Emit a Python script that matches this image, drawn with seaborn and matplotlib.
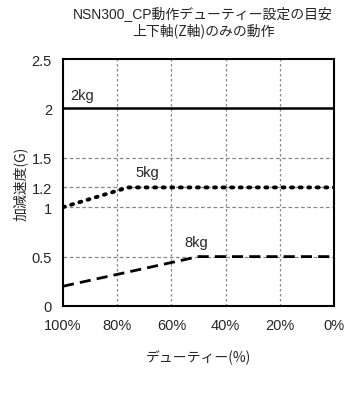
import matplotlib
matplotlib.use("Agg")
import matplotlib.pyplot as plt
import seaborn as sns

# データ (デューティー% と 加減速度G)
duty_2kg = [100, 0]
accel_2kg = [2.0, 2.0]
duty_5kg = [100, 76, 0]
accel_5kg = [1.0, 1.2, 1.2]
duty_8kg = [100, 50, 0]
accel_8kg = [0.2, 0.5, 0.5]

labels = ["2kg", "5kg", "8kg"]
label_pos = [(93, 2.14), (69, 1.36), (51, 0.65)]

x_ticks = [100, 80, 60, 40, 20, 0]
x_ticklabels = ["100%", "80%", "60%", "40%", "20%", "0%"]
y_ticks = [0, 0.5, 1, 1.2, 1.5, 2, 2.5]
y_ticklabels = ["0", "0.5", "1", "1.2", "1.5", "2", "2.5"]

sns.set_style("white")
plt.rcParams['font.family'] = ['Liberation Sans', 'Noto Sans CJK JP']
jp = ['Noto Sans CJK JP', 'DejaVu Sans']

fig = plt.figure(figsize=(3.53, 4.10), dpi=100)
ax = fig.add_axes([63 / 353, 1 - 307 / 410, 271 / 353, 247 / 410])

# グリッド
for x in [80, 60, 40, 20]:
    ax.axvline(x, color="#888888", linestyle=(0, (2, 2)), linewidth=0.9, zorder=1)
for y in [0.5, 1, 1.2, 1.5]:
    ax.axhline(y, color="#888888", linestyle=(0, (3, 2)), linewidth=0.9, zorder=1)

sns.lineplot(x=duty_2kg, y=accel_2kg, ax=ax, color="black", linewidth=1.8, sort=False)
sns.lineplot(x=duty_5kg, y=accel_5kg, ax=ax, color="black", linewidth=2.8,
             linestyle=(0, (0.5, 1.7)), dash_capstyle="round", sort=False)
sns.lineplot(x=duty_8kg, y=accel_8kg, ax=ax, color="black", linewidth=2.0,
             linestyle=(0, (4, 2.2)), sort=False)

for lab, (lx, ly) in zip(labels, label_pos):
    ax.text(lx, ly, lab, ha="center", va="center", fontsize=10.5)

ax.set_xlim(100, 0)
ax.set_ylim(0, 2.5)
ax.set_xticks(x_ticks)
ax.set_xticklabels(x_ticklabels, fontsize=10.5)
ax.set_yticks(y_ticks)
ax.set_yticklabels(y_ticklabels, fontsize=10.5)
ax.tick_params(length=0, pad=8)
ax.tick_params(axis="x", pad=9)

for sp in ax.spines.values():
    sp.set_visible(True)
    sp.set_color("black")
    sp.set_linewidth(1.5)

ax.set_xlabel("デューティー(%)", fontsize=10, labelpad=12, family=jp)
ax.set_ylabel("加減速度(G)", fontsize=10, labelpad=3, family=jp)

fig.text(203 / 353, 1 - 14 / 410, "NSN300_CP動作デューティー設定の目安", ha="center", va="center", fontsize=10)
fig.text(203 / 353, 1 - 31 / 410, "上下軸(Z軸)のみの動作", ha="center", va="center", fontsize=10, family=jp)

fig.savefig("out.png", dpi=100, facecolor="white")
